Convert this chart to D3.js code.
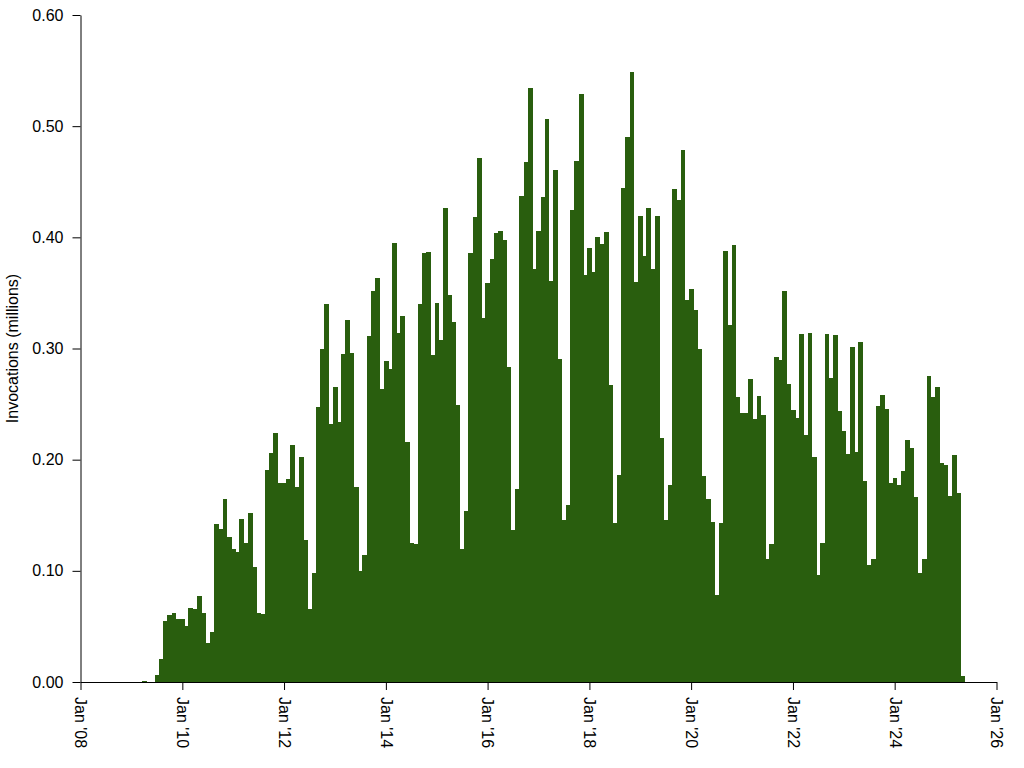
<!DOCTYPE html>
<html>
<head>
<meta charset="utf-8">
<script src="https://cdn.jsdelivr.net/npm/d3@7"></script>
<style>
  html, body { margin: 0; padding: 0; background: #fff; }
  svg { display: block; font-family: "Liberation Sans", Arial, sans-serif; }
</style>
</head>
<body>
<svg id="chart" width="1024" height="768"></svg>
<script>
// ---- data ----
const firstMonth = "2009-04"; // first bar; one value per consecutive month
const values = [
  0.001, 0, 0, 0.0063, 0.0207, 0.0549, 0.0603, 0.0621, 0.0567,               // 2009 Apr-Dec
  0.0567, 0.0504, 0.0666, 0.0657, 0.0774, 0.0621, 0.0351, 0.045, 0.142, 0.1377, 0.1646, 0.1304, // 2010
  0.1196, 0.1169, 0.1466, 0.125, 0.152, 0.1035, 0.0621, 0.0612, 0.1907, 0.206, 0.224, 0.179,   // 2011
  0.179, 0.1826, 0.2132, 0.1754, 0.2024, 0.1277, 0.0657, 0.098, 0.2474, 0.2995, 0.340, 0.232,  // 2012
  0.2654, 0.2339, 0.295, 0.3256, 0.296, 0.1754, 0.0998, 0.1142, 0.3112, 0.3517, 0.3634, 0.2636, // 2013
  0.2888, 0.2816, 0.3949, 0.314, 0.3292, 0.2159, 0.125, 0.1241, 0.340, 0.3859, 0.3868, 0.2941, // 2014
  0.3409, 0.3076, 0.4264, 0.3481, 0.3238, 0.2492, 0.1196, 0.1538, 0.3859, 0.4183, 0.4718, 0.3278, // 2015
  0.3592, 0.3809, 0.4035, 0.4057, 0.3978, 0.2837, 0.1368, 0.174, 0.4375, 0.4679, 0.5342, 0.3718, // 2016
  0.4057, 0.4365, 0.5064, 0.3603, 0.4606, 0.2909, 0.1455, 0.1596, 0.4248, 0.4689, 0.5288, 0.3664, // 2017
  0.3906, 0.3689, 0.4003, 0.3942, 0.4050, 0.2668, 0.1426, 0.1859, 0.4444, 0.4902, 0.5487, 0.3595, // 2018
  0.4194, 0.3834, 0.4266, 0.3711, 0.4194, 0.2191, 0.1455, 0.1776, 0.4436, 0.4339, 0.4786, 0.344,  // 2019
  0.3531, 0.335, 0.30, 0.1849, 0.1643, 0.1437, 0.0787, 0.143, 0.3877, 0.3211, 0.3931, 0.2564,    // 2020
  0.242, 0.242, 0.2726, 0.2366, 0.2573, 0.2402, 0.1106, 0.1241, 0.2923, 0.2896, 0.3517, 0.2681,  // 2021
  0.2447, 0.2375, 0.313, 0.2222, 0.3139, 0.2024, 0.0962, 0.125, 0.313, 0.2735, 0.3121, 0.2438,   // 2022
  0.2258, 0.2051, 0.3013, 0.2069, 0.3058, 0.1808, 0.1052, 0.1106, 0.2483, 0.2582, 0.2456, 0.179, // 2023
  0.1835, 0.1772, 0.1898, 0.2177, 0.2105, 0.1664, 0.098, 0.1106, 0.2753, 0.2564, 0.2654, 0.197,  // 2024
  0.1952, 0.1673, 0.2042, 0.17, 0.0054                                                          // 2025 Jan-May
];
const xDomain = ["2008-01", "2026-01"];
const yTicks = [0, 0.1, 0.2, 0.3, 0.4, 0.5, 0.6];
const yTitle = "Invocations (millions)";

// ---- chart ----
const parse = d3.timeParse("%Y-%m");
const start = parse(firstMonth);
const data = values.map((v, i) => ({ date: d3.timeMonth.offset(start, i), value: v }));

const svg = d3.select("#chart");
const margin = { top: 15, right: 27.5, bottom: 86, left: 80.5 };
const W = 1024, H = 768;

const x = d3.scaleTime()
  .domain(xDomain.map(parse))
  .range([margin.left, W - margin.right]);
const y = d3.scaleLinear()
  .domain([0, 0.6])
  .range([H - margin.bottom, margin.top]);

svg.append("g")
  .attr("shape-rendering", "crispEdges")
  .selectAll("rect")
  .data(data)
  .join("rect")
  .attr("fill", "#295e0e")
  .attr("x", d => {
    const w = x(d3.timeMonth.offset(d.date, 1)) - x(d.date);
    return x(d.date) - w / 2;
  })
  .attr("width", d => x(d3.timeMonth.offset(d.date, 1)) - x(d.date) + 0.5)
  .attr("y", d => y(d.value))
  .attr("height", d => y(0) - y(d.value));

const xAxis = d3.axisBottom(x)
  .ticks(d3.timeYear.every(2))
  .tickFormat(d3.timeFormat("%b '%y"))
  .tickSize(8)
  .tickSizeOuter(0);

const gx = svg.append("g")
  .attr("transform", `translate(0,${y(0)})`)
  .call(xAxis);
gx.selectAll("text")
  .attr("font-size", 16)
  .attr("fill", "#000")
  .attr("transform", "rotate(90)")
  .attr("text-anchor", "start")
  .attr("x", 15)
  .attr("y", 0)
  .attr("dy", "0.35em");
gx.selectAll("line, path").attr("stroke", "#000");
gx.attr("font-family", null);

const yAxis = d3.axisLeft(y)
  .tickValues(yTicks)
  .tickFormat(d3.format(".2f"))
  .tickSize(8)
  .tickPadding(9)
  .tickSizeOuter(0);

const gy = svg.append("g")
  .attr("transform", `translate(${margin.left},0)`)
  .call(yAxis);
gy.selectAll("text").attr("font-size", 16).attr("fill", "#000");
gy.selectAll("line, path").attr("stroke", "#000");
gy.attr("font-family", null);

svg.append("text")
  .attr("transform", `translate(18,${(margin.top + y(0)) / 2}) rotate(-90)`)
  .attr("text-anchor", "middle")
  .attr("font-size", 16)
  .attr("fill", "#000")
  .text(yTitle);
</script>
</body>
</html>
